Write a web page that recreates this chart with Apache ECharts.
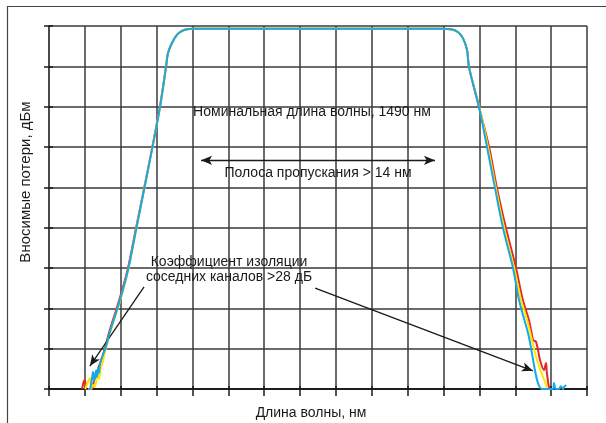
<!DOCTYPE html>
<html>
<head>
<meta charset="utf-8">
<script src="https://cdn.jsdelivr.net/npm/echarts@6/dist/echarts.min.js"></script>
<style>
html, body { margin: 0; padding: 0; background: #fff; }
#chart { width: 606px; height: 423px; }
</style>
</head>
<body>
<div id="chart"></div>
<script>
// Axis extents in grid divisions (the original has no tick labels)
const xDivisions = 15;
const yDivisions = 9;

// Spectra: [wavelength division, level division]
const redTrace = [
	[0.92, 0], [0.976, 0.2], [1.004, 0.21], [1.032, 0], [1.087, -0.04], [1.143, -0.04], [1.199, 0],
	[1.255, 0.2], [1.31, 0.35], [1.366, 0.5], [1.45, 0.7], [1.55, 0.98], [1.6, 1.14], [1.68, 1.42],
	[1.96, 2.21], [2.19, 2.95], [2.415, 3.94], [2.755, 5.43], [3.09, 6.99], [3.262, 7.98],
	[3.318, 8.33], [3.429, 8.58], [3.568, 8.78], [3.708, 8.88], [3.848, 8.92], [4.0, 8.93],
	[11.0, 8.93], [11.208, 8.92], [11.4, 8.85], [11.54, 8.7], [11.654, 8.41], [11.71, 7.98],
	[11.99, 6.99], [12.27, 6.0], [12.49, 4.98], [12.74, 3.99], [13.02, 3.0], [13.21, 2.21],
	[13.38, 1.71], [13.47, 1.32], [13.5, 1.21], [13.58, 1.17], [13.69, 0.72], [13.8, 0.47],
	[13.856, 0.645], [13.88, 0.42], [13.94, 0.05], [14.0, -0.02]
];
const yellowTrace = [
	[1.004, 0], [1.06, 0.12], [1.143, 0.27], [1.171, 0], [1.227, 0.1], [1.283, 0.05], [1.366, 0.47],
	[1.394, 0.25], [1.45, 0.55], [1.478, 0.6], [1.58, 1.0], [1.63, 1.14], [1.71, 1.42],
	[1.99, 2.21], [2.21, 2.95], [2.43, 3.94], [2.76, 5.43], [3.095, 6.99], [3.262, 7.98],
	[3.318, 8.33], [3.429, 8.58], [3.568, 8.78], [3.708, 8.88], [3.848, 8.92], [4.0, 8.93],
	[11.0, 8.93], [11.208, 8.92], [11.4, 8.85], [11.54, 8.7], [11.654, 8.41], [11.71, 7.98],
	[12.0, 6.99], [12.24, 6.0], [12.46, 4.98], [12.69, 3.99], [12.97, 3.0], [13.16, 2.21],
	[13.33, 1.71], [13.605, 0.72], [13.83, 0.17], [13.91, -0.02], [13.97, -0.05]
];
const blueTrace = [
	[1.087, 0], [1.143, 0], [1.171, 0.12], [1.199, 0.27], [1.227, 0.42], [1.255, 0.2], [1.283, 0.32],
	[1.31, 0.45], [1.338, 0.3], [1.366, 0.52], [1.394, 0.4], [1.422, 0.62], [1.478, 0.78],
	[1.561, 0.98], [1.617, 1.14], [1.701, 1.42], [1.98, 2.21], [2.203, 2.95], [2.426, 3.94],
	[2.76, 5.43], [3.095, 6.99], [3.262, 7.98], [3.318, 8.33], [3.429, 8.58], [3.568, 8.78],
	[3.708, 8.88], [3.848, 8.92], [4.0, 8.93], [11.0, 8.93], [11.208, 8.92], [11.4, 8.85],
	[11.54, 8.7], [11.654, 8.41], [11.71, 7.98], [11.989, 6.99], [12.212, 6.0], [12.435, 4.98],
	[12.658, 3.99], [12.937, 3.0], [13.104, 2.21], [13.355, 1.39], [13.745, 0], [13.91, 0],
	[14.05, 0], [14.08, 0.15], [14.13, 0], [14.22, 0], [14.27, 0.07], [14.33, 0], [14.36, 0.05], [14.42, 0.1]
];

// Annotation arrows, [start, end] in data divisions
const passbandArrow = [[4.24, 5.67], [10.76, 5.67]];
const isolationArrowLeft = [[2.65, 2.53], [1.14, 0.57]];
const isolationArrowRight = [[7.42, 2.5], [13.49, 0.45]];

const titleText = "Номинальная длина волны, 1490 нм";
const passbandText = "Полоса пропускания > 14 нм";
const isolationText = "Коэффициент изоляции\nсоседних каналов >28 дБ";
const xAxisName = "Длина волны, нм";
const yAxisName = "Вносимые потери, дБм";

const font = '14px "Liberation Sans", Arial, sans-serif';
const yFont = '15px "Liberation Sans", Arial, sans-serif';
const textColour = "#1a1a1a";
const gridColour = "#3a3a3a";

function axisBase(tickLength) {
	return {
		type: "value",
		min: 0,
		interval: 1,
		axisLabel: { show: false },
		axisLine: { show: true, lineStyle: { color: "#1a1a1a", width: 1.5 } },
		axisTick: { show: true, length: tickLength, lineStyle: { color: "#1a1a1a", width: 1.5 } },
	};
}

function textItem(text, x, y, extra) {
	return Object.assign(
		{
			type: "text",
			x: x,
			y: y,
			z: 10,
			style: { text: text, font: font, fill: textColour, align: "center", verticalAlign: "middle" },
		},
		extra || {}
	);
}

const chartDom = document.getElementById("chart");
const myChart = echarts.init(chartDom, null, { renderer: "canvas" });

const arrowStyle = { color: "#1a1a1a", width: 1.3, type: "solid" };

const option = {
	animation: false,
	grid: { left: 49, top: 26, right: 19, bottom: 34 },
	xAxis: [
		Object.assign(axisBase(7), {
			max: xDivisions,
			position: "bottom",
			splitLine: { show: true, lineStyle: { color: gridColour, width: 1.5 } },
		}),
		Object.assign(axisBase(3), { max: xDivisions, position: "top", splitLine: { show: false } }),
	],
	yAxis: [
		Object.assign(axisBase(5), {
			max: yDivisions,
			position: "left",
			splitLine: { show: true, lineStyle: { color: gridColour, width: 1.5 } },
		}),
		Object.assign(axisBase(4), {
			max: yDivisions,
			position: "right",
			axisLine: { show: true, lineStyle: { color: "#555", width: 1.5 } },
			splitLine: { show: false },
		}),
	],
	series: [
		{
			type: "line",
			data: redTrace,
			showSymbol: false,
			smooth: 0.35,
			lineStyle: { color: "#e3262a", width: 2 },
			z: 3,
		},
		{
			type: "line",
			data: yellowTrace,
			showSymbol: false,
			smooth: 0.35,
			lineStyle: { color: "#ffe600", width: 2 },
			z: 4,
		},
		{
			type: "line",
			data: blueTrace,
			showSymbol: false,
			smooth: 0.35,
			lineStyle: { color: "#17a8e6", width: 2 },
			z: 5,
			markLine: {
				silent: true,
				symbolSize: [7, 11],
				label: { show: false },
				lineStyle: arrowStyle,
				data: [
					[
						{ coord: passbandArrow[0], symbol: "arrow" },
						{ coord: passbandArrow[1], symbol: "arrow" },
					],
					[
						{ coord: isolationArrowLeft[0], symbol: "none" },
						{ coord: isolationArrowLeft[1], symbol: "arrow" },
					],
					[
						{ coord: isolationArrowRight[0], symbol: "none" },
						{ coord: isolationArrowRight[1], symbol: "arrow" },
					],
				],
			},
		},
	],
	graphic: [
		{
			type: "rect",
			silent: true,
			shape: { x: 7.5, y: 6.5, width: 700, height: 500 },
			style: { fill: "none", stroke: "#444", lineWidth: 1.2 },
		},
		textItem(titleText, 312, 112),
		textItem(passbandText, 318, 173),
		textItem(isolationText, 229, 269.5, {
			style: {
				text: isolationText,
				font: font,
				lineHeight: 15,
				fill: textColour,
				align: "center",
				verticalAlign: "middle",
			},
		}),
		textItem(xAxisName, 311, 413),
		textItem(yAxisName, 26, 182, {
			rotation: Math.PI / 2,
			style: { text: yAxisName, font: yFont, fill: textColour, align: "center", verticalAlign: "middle" },
		}),
	],
};

myChart.setOption(option);
</script>
</body>
</html>
